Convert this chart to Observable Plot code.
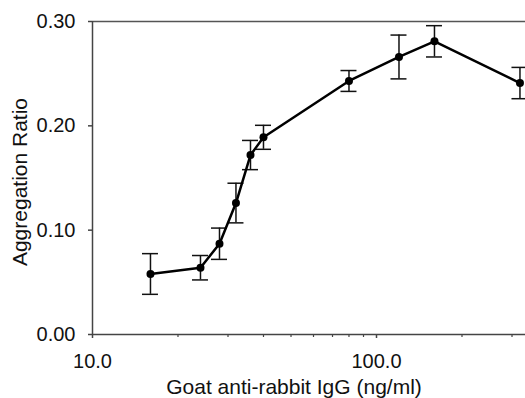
<!DOCTYPE html>
<html>
<head>
<meta charset="utf-8">
<script src="https://cdn.jsdelivr.net/npm/d3@7"></script>
<script src="https://cdn.jsdelivr.net/npm/@observablehq/plot@0.6"></script>
<style>
  html, body { margin: 0; padding: 0; background: #fff; overflow: hidden; }
  #chart { width: 525px; height: 398px; overflow: hidden; }
</style>
</head>
<body>
<div id="chart"></div>
<script>
// Data
const concentrations = [16, 24, 28, 32, 36, 40, 80, 120, 160, 320]; // ng/ml
const ratios = [0.058, 0.064, 0.087, 0.126, 0.172, 0.189, 0.243, 0.266, 0.281, 0.241];
const errors = [0.0195, 0.0117, 0.015, 0.019, 0.014, 0.0115, 0.010, 0.021, 0.015, 0.015];

// Tick values
const xMajorTicks = [10, 100];
const xMinorTicks = [20, 30, 40, 50, 60, 70, 80, 90, 200, 300];
const yTicks = [0, 0.1, 0.2, 0.3];

const xTitle = "Goat anti-rabbit IgG (ng/ml)";
const yTitle = "Aggregation Ratio";

const data = concentrations.map((c, i) => ({
  x: c, y: ratios[i], lo: ratios[i] - errors[i], hi: ratios[i] + errors[i]
}));

const W = 525, H = 398;
const mL = 92, mR = 0, mT = 21, mB = 64;
const decadePx = 284;
const xMax = Math.pow(10, 1 + (W - mL - mR) / decadePx);

const font = "Liberation Sans, Arial, Helvetica, sans-serif";
const axisColor = "#444";

const chart = Plot.plot({
  width: W,
  height: H,
  marginLeft: mL,
  marginRight: mR,
  marginTop: mT,
  marginBottom: mB,
  style: { fontFamily: font, fontSize: "20px", color: "#111", background: "#fff", overflow: "hidden" },
  x: { type: "log", domain: [10, xMax] },
  y: { domain: [0, 0.3] },
  marks: [
    // frame lines
    Plot.ruleY([0.3], { stroke: "#555", strokeWidth: 1.5 }),
    Plot.ruleY([0], { stroke: axisColor, strokeWidth: 1.5 }),
    Plot.ruleX([10], { stroke: axisColor, strokeWidth: 1.5 }),
    // axes
    Plot.axisY(yTicks, {
      tickSize: 4, tickPadding: 13, tickFormat: d3.format(".2f"),
      stroke: axisColor, strokeWidth: 1.5, fontSize: 20, label: null
    }),
    Plot.axisX(xMajorTicks, {
      tickSize: 4, tickPadding: 15, tickFormat: d3.format(".1f"),
      stroke: axisColor, strokeWidth: 1.5, fontSize: 20, label: null
    }),
    Plot.axisX(xMinorTicks, {
      tickSize: 3, tickFormat: () => "", stroke: axisColor, strokeWidth: 1.2, label: null
    }),
    // axis titles
    Plot.text([xTitle], {
      frameAnchor: "bottom", text: d => d, dx: -15, dy: 52.3,
      textAnchor: "middle", lineAnchor: "middle",
      fontSize: 21, fill: "#111"
    }),
    Plot.text([yTitle], {
      frameAnchor: "left", text: d => d, dx: -72, dy: 4, rotate: -90,
      textAnchor: "middle", lineAnchor: "middle",
      fontSize: 21, fill: "#111"
    }),
    // error bars
    Plot.ruleX(data, { x: "x", y1: "lo", y2: "hi", stroke: "#111", strokeWidth: 1.5 }),
    Plot.ruleY(data, { y: "lo", x1: "x", x2: "x", insetLeft: -8, insetRight: -8, stroke: "#111", strokeWidth: 1.5 }),
    Plot.ruleY(data, { y: "hi", x1: "x", x2: "x", insetLeft: -8, insetRight: -8, stroke: "#111", strokeWidth: 1.5 }),
    // line and points
    Plot.line(data, { x: "x", y: "y", stroke: "#000", strokeWidth: 2.5 }),
    Plot.dot(data, { x: "x", y: "y", r: 4, fill: "#000", stroke: "none" })
  ]
});

document.getElementById("chart").appendChild(chart);
</script>
</body>
</html>
